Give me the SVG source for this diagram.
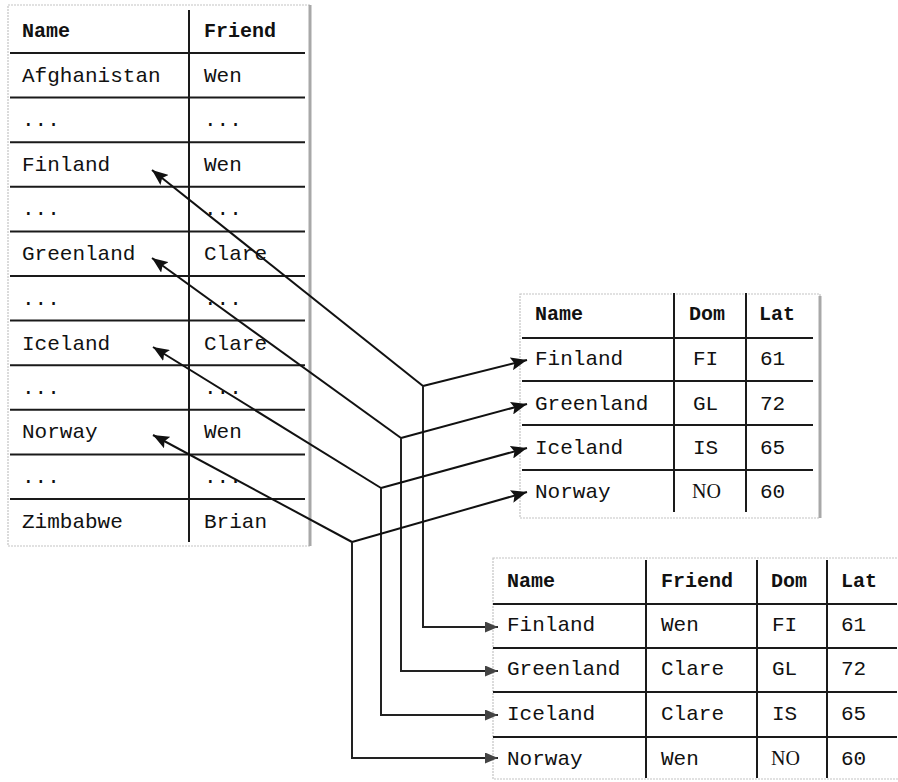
<svg xmlns="http://www.w3.org/2000/svg" width="898" height="782" viewBox="0 0 898 782">
<style>
.t{font-family:"Liberation Mono","Courier New",monospace;font-size:21px;fill:#111}
.h{font-family:"Liberation Mono","Courier New",monospace;font-size:20px;font-weight:bold;fill:#111}
.s{font-family:"Liberation Serif","Times New Roman",serif;font-size:20px;fill:#111}
.g{stroke:#1a1a1a;stroke-width:2;fill:none}
.fr{stroke:#c4c4c4;stroke-width:1.2;fill:none;stroke-dasharray:2 1}
.fe{stroke:#a8a8a8;stroke-width:3;fill:none}
.c{stroke:#111;stroke-width:2;fill:none}
.c2{stroke:#222;stroke-width:2;fill:none}
</style>
<defs>
<marker id="ah" markerUnits="userSpaceOnUse" markerWidth="17" markerHeight="13" refX="16" refY="6.5" orient="auto">
<path d="M0,0 L16,6.5 L0,13 L3,6.5 Z" fill="#111"/>
</marker>
<marker id="ah2" markerUnits="userSpaceOnUse" markerWidth="13" markerHeight="11" refX="13" refY="5.5" orient="auto">
<path d="M0,0 L13,5.5 L0,11 Z" fill="#444"/>
</marker>
</defs>
<rect width="898" height="782" fill="#fff"/>

<g id="countries">
<rect class="fr" x="8" y="5" width="302" height="541"/>
<line class="fe" x1="310" y1="5" x2="310" y2="546"/>
<path class="g" d="M10,53H305M10,97.6H305M10,142.2H305M10,186.8H305M10,231.4H305M10,276H305M10,320.6H305M10,365.2H305M10,409.8H305M10,454.4H305M10,499H305M189,10V542"/>
<text class="h" x="22" y="37">Name</text><text class="h" x="204" y="37">Friend</text>
<text class="t" x="22" y="82">Afghanistan</text><text class="t" x="204" y="82">Wen</text>
<text class="t" x="22" y="126">...</text><text class="t" x="204" y="126">...</text>
<text class="t" x="22" y="171">Finland</text><text class="t" x="204" y="171">Wen</text>
<text class="t" x="22" y="215">...</text><text class="t" x="204" y="215">...</text>
<text class="t" x="22" y="260">Greenland</text><text class="t" x="204" y="260">Clare</text>
<text class="t" x="22" y="305">...</text><text class="t" x="204" y="305">...</text>
<text class="t" x="22" y="350">Iceland</text><text class="t" x="204" y="350">Clare</text>
<text class="t" x="22" y="394">...</text><text class="t" x="204" y="394">...</text>
<text class="t" x="22" y="438">Norway</text><text class="t" x="204" y="438">Wen</text>
<text class="t" x="22" y="483">...</text><text class="t" x="204" y="483">...</text>
<text class="t" x="22" y="528">Zimbabwe</text><text class="t" x="204" y="528">Brian</text>
</g>

<g id="domains">
<rect class="fr" x="520" y="294" width="300" height="224"/>
<line class="fe" x1="820" y1="296" x2="820" y2="518"/>
<path class="g" d="M522,338H813M522,381H813M522,425H813M522,470H813M674,293V512M746,293V512"/>
<text class="h" x="535" y="320">Name</text><text class="h" x="689" y="320">Dom</text><text class="h" x="759" y="320">Lat</text>
<text class="t" x="535" y="365">Finland</text><text class="t" x="693" y="365">FI</text><text class="t" x="760" y="365">61</text>
<text class="t" x="535" y="410">Greenland</text><text class="t" x="693" y="410">GL</text><text class="t" x="760" y="410">72</text>
<text class="t" x="535" y="454">Iceland</text><text class="t" x="693" y="454">IS</text><text class="t" x="760" y="454">65</text>
<text class="t" x="535" y="498">Norway</text><text class="s" x="692" y="498">NO</text><text class="t" x="760" y="498">60</text>
</g>

<g id="joined">
<rect class="fr" x="493" y="558" width="410" height="221"/>
<path class="g" d="M493,604H897M493,648H897M493,692H897M493,737H897M646,560V778M757,560V778M827,560V778"/>
<text class="h" x="507" y="587">Name</text><text class="h" x="661" y="587">Friend</text><text class="h" x="771" y="587">Dom</text><text class="h" x="841" y="587">Lat</text>
<text class="t" x="507" y="631">Finland</text><text class="t" x="661" y="631">Wen</text><text class="t" x="772" y="631">FI</text><text class="t" x="841" y="631">61</text>
<text class="t" x="507" y="675">Greenland</text><text class="t" x="661" y="675">Clare</text><text class="t" x="772" y="675">GL</text><text class="t" x="841" y="675">72</text>
<text class="t" x="507" y="720">Iceland</text><text class="t" x="661" y="720">Clare</text><text class="t" x="772" y="720">IS</text><text class="t" x="841" y="720">65</text>
<text class="t" x="507" y="765">Norway</text><text class="t" x="661" y="765">Wen</text><text class="s" x="771" y="765">NO</text><text class="t" x="841" y="765">60</text>
</g>

<g id="connectors">
<path class="c" d="M423,386L152,170" marker-end="url(#ah)"/>
<path class="c" d="M423,386L527,360" marker-end="url(#ah)"/>
<path class="c2" d="M423,386V627H498" marker-end="url(#ah2)"/>
<path class="c" d="M401,438L152,258" marker-end="url(#ah)"/>
<path class="c" d="M401,438L527,404" marker-end="url(#ah)"/>
<path class="c2" d="M401,438V671H498" marker-end="url(#ah2)"/>
<path class="c" d="M381,488L153,347" marker-end="url(#ah)"/>
<path class="c" d="M381,488L527,448" marker-end="url(#ah)"/>
<path class="c2" d="M381,488V715H498" marker-end="url(#ah2)"/>
<path class="c" d="M352,542L153,435" marker-end="url(#ah)"/>
<path class="c" d="M352,542L527,492" marker-end="url(#ah)"/>
<path class="c2" d="M352,542V758H498" marker-end="url(#ah2)"/>
</g>
</svg>
